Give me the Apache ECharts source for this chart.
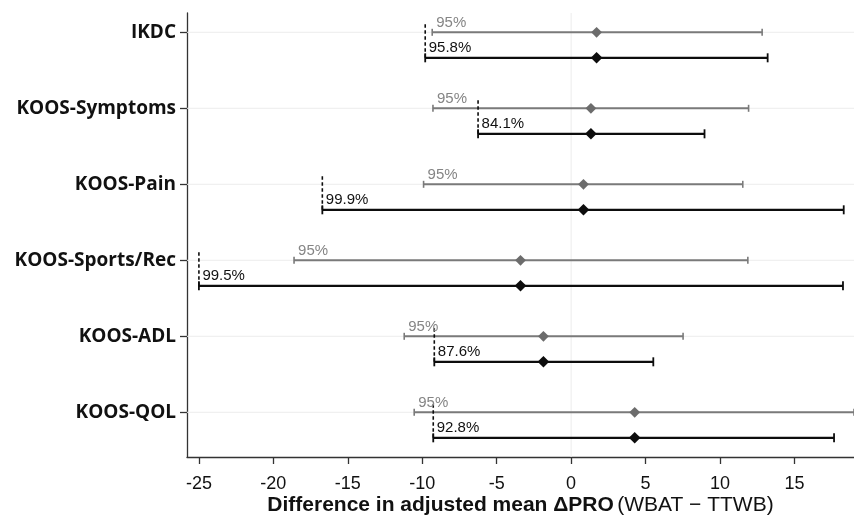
<!DOCTYPE html>
<html>
<head>
<meta charset="utf-8">
<script src="https://cdn.jsdelivr.net/npm/echarts@6/dist/echarts.min.js"></script>
<style>
html,body{margin:0;padding:0;background:#fff;}
#chart{width:854px;height:517px;}
</style>
</head>
<body>
<div id="chart"></div>
<script>
const categories = ['IKDC', 'KOOS-Symptoms', 'KOOS-Pain', 'KOOS-Sports/Rec', 'KOOS-ADL', 'KOOS-QOL'];
const meanDiff   = [1.71, 1.33, 0.83, -3.40, -1.86, 4.27];
const ci95Low    = [-9.33, -9.28, -9.91, -18.61, -11.21, -10.54];
const ci95High   = [12.83, 11.92, 11.53, 11.87, 7.52, 19.00];
const ciAltLow   = [-9.80, -6.25, -16.71, -25.00, -9.19, -9.26];
const ciAltHigh  = [13.20, 8.96, 18.31, 18.26, 5.52, 17.66];
const altLevels  = ['95.8%', '84.1%', '99.9%', '99.5%', '87.6%', '92.8%'];
const ci95Label  = '95%';
const xTickValues = [-25, -20, -15, -10, -5, 0, 5, 10, 15];
const rowValues   = [0, 1, 2, 3, 4, 5];

const chart = echarts.init(document.getElementById('chart'), null, {renderer: 'canvas'});

const GRAY = '#7a7a7a';
const GRAY_D = '#6c6c6c';
const BLACK = '#0d0d0d';
const BLACK_OFFSET = 25.5;
const FONT = '"Liberation Sans", Arial, sans-serif';

function seg(x1, y1, x2, y2, stroke, w, dash) {
  return {type: 'line', shape: {x1, y1, x2, y2}, style: {stroke, lineWidth: w, lineDash: dash || null}};
}
function diamond(x, y, h, fill) {
  return {type: 'polygon', shape: {points: [[x, y - h], [x + h, y], [x, y + h], [x - h, y]]}, style: {fill}};
}

function renderRow(params, api) {
  const i = params.dataIndex;
  const X = v => api.coord([v, i])[0];
  const yG = api.coord([0, i])[1];
  const yB = yG + BLACK_OFFSET;
  const ch = [];
  const gl = X(ci95Low[i]), gh = X(ci95High[i]), m = X(meanDiff[i]);
  ch.push(seg(gl, yG, gh, yG, GRAY, 2));
  ch.push(seg(gl, yG - 3.5, gl, yG + 3.5, GRAY, 1.6));
  ch.push(seg(gh, yG - 3.5, gh, yG + 3.5, GRAY, 1.6));
  const bl = X(ciAltLow[i]), bh = X(ciAltHigh[i]);
  ch.push(seg(bl, yB, bh, yB, BLACK, 2.2));
  ch.push(seg(bl, yB - 4.5, bl, yB + 4.5, BLACK, 1.8));
  ch.push(seg(bh, yB - 4.5, bh, yB + 4.5, BLACK, 1.8));
  ch.push(seg(bl, yG - 8, bl, yB, BLACK, 1.6, [3.5, 2.5]));
  ch.push(diamond(m, yG, 5.4, GRAY_D));
  ch.push(diamond(m, yB, 5.8, BLACK));
  ch.push({type: 'text', style: {text: ci95Label, x: gl + 4, y: yG - 2, align: 'left', verticalAlign: 'bottom',
    fill: '#858585', font: '15px ' + FONT}});
  ch.push({type: 'text', style: {text: altLevels[i], x: bl + 3.5, y: yB - 2.5, align: 'left', verticalAlign: 'bottom',
    fill: '#111', font: '15px ' + FONT}});
  return {type: 'group', children: ch};
}

function renderGrid(params, api) {
  const cs = params.coordSys;
  const ch = [];
  rowValues.forEach(r => {
    const y = api.coord([0, r])[1];
    ch.push(seg(cs.x, y, cs.x + cs.width, y, '#ececec', 1));
  });
  const x0 = api.coord([0, 0])[0];
  ch.push(seg(x0, cs.y, x0, cs.y + cs.height, '#ececec', 1));
  return {type: 'group', children: ch};
}

const option = {
  animation: false,
  backgroundColor: '#fff',
  grid: {left: 187, right: 0, top: 13, bottom: 60, containLabel: false, outerBoundsMode: 'none'},
  xAxis: {
    type: 'value', min: -25.8, max: 19.0,
    axisLine: {show: true, onZero: false, lineStyle: {color: '#333', width: 1.3}},
    axisTick: {show: true, customValues: xTickValues, length: 7, lineStyle: {color: '#333', width: 1.3}},
    axisLabel: {customValues: xTickValues, formatter: v => String(v), margin: 18,
      color: '#111', fontSize: 18, fontFamily: FONT},
    splitLine: {show: false},
    name: '{b|Difference in adjusted mean ΔPRO} {n|(WBAT − TTWB)}',
    nameLocation: 'middle', nameGap: 38, nameMoveOverlap: false,
    nameTextStyle: {
      rich: {
        b: {fontWeight: 'bold', fontSize: 21, color: '#111', fontFamily: FONT},
        n: {fontWeight: 'normal', fontSize: 21, color: '#111', fontFamily: FONT}
      }
    }
  },
  yAxis: {
    type: 'value', inverse: true, min: -0.254, max: 5.588,
    axisLine: {show: true, onZero: false, lineStyle: {color: '#333', width: 1.3}},
    axisTick: {show: true, customValues: rowValues, length: 7, lineStyle: {color: '#333', width: 1.3}},
    axisLabel: {customValues: rowValues, formatter: v => categories[v] || '', margin: 11,
      color: '#111', fontSize: 19, fontWeight: 'bold', fontFamily: '"Open Sans", "Noto Sans", sans-serif'},
    splitLine: {show: false}
  },
  series: [
    {type: 'custom', renderItem: renderGrid, data: [[0, 0]], encode: {x: 0, y: 1}, z: 1, silent: true},
    {type: 'custom', renderItem: renderRow, data: categories.map((c, i) => [meanDiff[i], i]),
      encode: {x: 0, y: 1}, z: 2, silent: true}
  ]
};
chart.setOption(option);
</script>
</body>
</html>
